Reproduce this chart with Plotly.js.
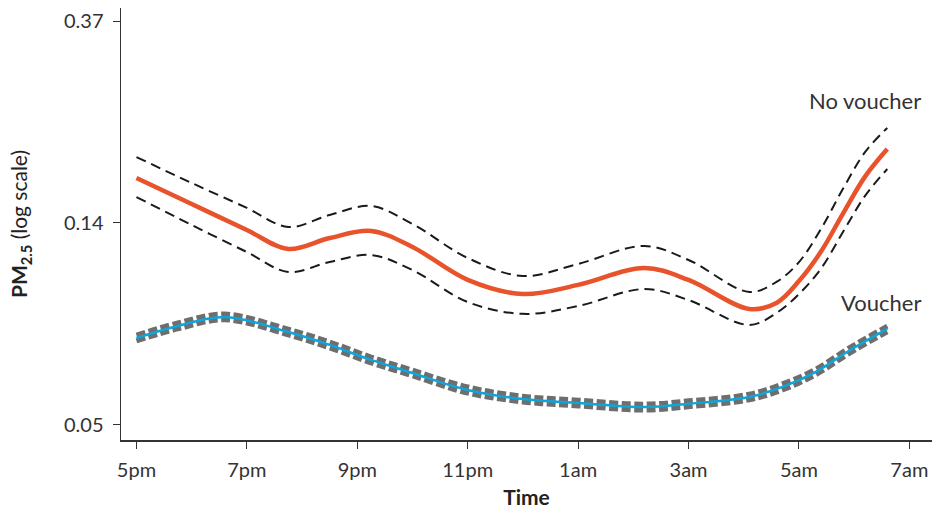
<!DOCTYPE html>
<html>
<head>
<meta charset="utf-8">
<script src="https://cdn.plot.ly/plotly-3.0.1.min.js"></script>
<style>html,body{margin:0;padding:0;background:#fff;}#chart{width:935px;height:511px;}</style>
</head>
<body>
<div id="chart"></div>
<script>
// hours after 5pm
const hoursNV = [0, 1, 2, 2.75, 3.5, 4.25, 5, 6, 7, 8, 9.2, 10, 11.1, 11.6, 12.0, 12.4, 12.8, 13.2, 13.6];
const noVoucher      = [0.1691, 0.1487, 0.1307, 0.1190, 0.1256, 0.1301, 0.1202, 0.1021, 0.0952, 0.0996, 0.1083, 0.1021, 0.0884, 0.0912, 0.1015, 0.1175, 0.1420, 0.1705, 0.1952];
const noVoucherUpper = [0.1876, 0.1650, 0.1458, 0.1327, 0.1408, 0.1472, 0.1347, 0.1138, 0.1041, 0.1105, 0.1208, 0.1127, 0.0962, 0.1012, 0.1115, 0.1315, 0.1605, 0.1925, 0.2166];
const noVoucherLower = [0.1539, 0.1340, 0.1172, 0.1062, 0.1116, 0.1155, 0.1072, 0.0915, 0.0863, 0.0897, 0.0976, 0.0924, 0.0817, 0.0868, 0.0952, 0.1080, 0.1296, 0.1550, 0.1768];

const hoursV = [0, 0.75, 1.6, 2.75, 3.5, 4.25, 5, 6, 7, 8, 9.2, 10, 11.1, 11.7, 12.3, 12.9, 13.6];
const voucher      = [0.0766, 0.0813, 0.0850, 0.0789, 0.0740, 0.0687, 0.0644, 0.0592, 0.0566, 0.0555, 0.0544, 0.0553, 0.0572, 0.0601, 0.0647, 0.0718, 0.0801];
const voucherUpper = [0.0777, 0.0825, 0.0862, 0.0800, 0.0751, 0.0697, 0.0653, 0.0601, 0.0574, 0.0563, 0.0552, 0.0561, 0.0580, 0.0610, 0.0656, 0.0728, 0.0812];
const voucherLower = [0.0755, 0.0801, 0.0838, 0.0778, 0.0729, 0.0677, 0.0635, 0.0583, 0.0558, 0.0547, 0.0536, 0.0545, 0.0564, 0.0592, 0.0638, 0.0708, 0.0790];

const xTickVals = [0, 2, 4, 6, 8, 10, 12, 14];
const xTickText = ['5pm', '7pm', '9pm', '11pm', '1am', '3am', '5am', '7am'];
const yTickVals = [Math.exp(-3), Math.exp(-2), Math.exp(-1)];
const yTickText = ['0.05', '0.14', '0.37'];

const FONT = 'Lato, "Open Sans", sans-serif';
const sp = {shape: 'spline', smoothing: 1};

const traces = [
  {x: hoursNV, y: noVoucherUpper, mode: 'lines', line: Object.assign({color: '#1a1a1a', width: 2, dash: '10px,6px'}, sp)},
  {x: hoursNV, y: noVoucherLower, mode: 'lines', line: Object.assign({color: '#1a1a1a', width: 2, dash: '10px,6px'}, sp)},
  {x: hoursNV, y: noVoucher, mode: 'lines', line: Object.assign({color: '#e8532c', width: 4.5}, sp)},
  {x: hoursV, y: voucherUpper, mode: 'lines', line: Object.assign({color: '#6e6e6e', width: 5, dash: '9px,3.5px'}, sp)},
  {x: hoursV, y: voucherLower, mode: 'lines', line: Object.assign({color: '#6e6e6e', width: 5, dash: '9px,3.5px'}, sp)},
  {x: hoursV, y: voucher, mode: 'lines', line: Object.assign({color: '#0ea5d9', width: 2.5}, sp)}
];

const layout = {
  width: 935, height: 511,
  margin: {l: 121, r: 3, t: 8, b: 71},
  paper_bgcolor: '#fff', plot_bgcolor: '#fff',
  showlegend: false,
  font: {family: FONT, color: '#333', size: 20},
  xaxis: {
    range: [-0.28, 14.41],
    tickvals: xTickVals, ticktext: xTickText,
    showgrid: false, zeroline: false,
    showline: true, linecolor: '#333', linewidth: 1.5,
    ticks: 'outside', ticklen: 7, tickcolor: '#333', tickwidth: 1,
    ticklabelstandoff: 4,
    tickfont: {family: FONT, size: 20, color: '#333'},
    title: {text: '<b>Time</b>', font: {family: FONT, size: 21, color: '#222'}, standoff: 11}
  },
  yaxis: {
    type: 'log',
    range: [-1.3352, -0.4063],
    tickvals: yTickVals, ticktext: yTickText,
    showgrid: false, zeroline: false,
    showline: true, linecolor: '#333', linewidth: 1.5,
    ticks: 'outside', ticklen: 7, tickcolor: '#333', tickwidth: 1,
    ticklabelstandoff: 5,
    tickfont: {family: FONT, size: 20, color: '#333'},
    title: {text: '<b>PM<sub>2.5</sub></b> (log scale)', font: {family: FONT, size: 21, color: '#222'}, standoff: 30}
  },
  annotations: [
    {x: 13.6, y: Math.log10(0.2476), xref: 'x', yref: 'y', text: 'No voucher', showarrow: false, xanchor: 'right', font: {family: FONT, size: 22, color: '#333'}, xshift: 36},
    {x: 13.6, y: Math.log10(0.0911), xref: 'x', yref: 'y', text: 'Voucher', showarrow: false, xanchor: 'right', font: {family: FONT, size: 22, color: '#333'}, xshift: 36}
  ]
};

Plotly.newPlot('chart', traces, layout, {displayModeBar: false, staticPlot: true});
</script>
</body>
</html>
